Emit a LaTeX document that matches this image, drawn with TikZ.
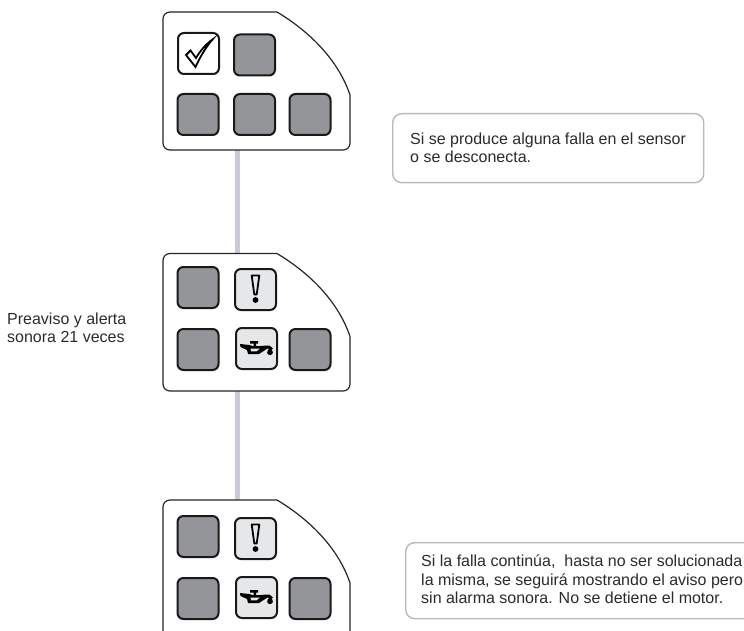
\documentclass[tikz,border=0pt]{standalone}
\usepackage{fontspec}
\setmainfont{Liberation Sans}
\definecolor{keygrey}{HTML}{939598}
\definecolor{litgrey}{HTML}{E6E7E8}
\definecolor{linkc}{HTML}{C9C9D8}
\definecolor{notec}{HTML}{B4BAC0}
\definecolor{txtc}{HTML}{2B2B2B}
\tikzset{
  x=1pt,y=-1pt,
  panel/.style={draw=black!85,line width=1.2pt,fill=white},
  key/.style={draw=black!90,line width=2pt,rounded corners=6pt,minimum width=41pt,minimum height=41pt,inner sep=0pt,anchor=north west},
  off/.style={key,fill=keygrey},
  lit/.style={key,fill=litgrey},
  blank/.style={key,fill=white},
  link/.style={draw=linkc,line width=4.5pt},
  note/.style={draw=notec,line width=1.4pt,rounded corners=9pt,fill=white,anchor=north west,inner sep=0pt},
  txt/.style={text=txtc,font=\fontsize{16}{18.2}\selectfont,align=left,anchor=north west,inner sep=0pt}
}
\newcommand{\panelshape}[2]{% top y, bottom y
  \path[panel] (163,#2-7) -- (163,#1+7)
    .. controls (163,#1+3) and (166,#1) .. (170,#1) -- (277,#1)
    .. controls (312,#1+21) and (339,#1+50) .. (350,#1+83)
    -- (350,#2-7) .. controls (350,#2-3) and (347,#2) .. (343,#2) -- (170,#2)
    .. controls (166,#2) and (163,#2-3) .. (163,#2-7) -- cycle;
}
\newcommand{\excl}[2]{%
  \fill[black] (#1,#2+32) circle[radius=2.9];
  \draw[black,line width=1.8pt,line join=round] (#1-3.8,#2+7.5) -- (#1+3.8,#2+7.5) -- (#1+1.2,#2+26.5) -- (#1-1.2,#2+26.5) -- cycle;
}
\newcommand{\oilcan}[2]{%
  \fill[black] (#1-15.5,#2-5) -- (#1-6,#2-4) -- (#1-3,#2-3) -- (#1-2,#2-3) -- (#1-2,#2-5.5) -- (#1-5.5,#2-5.5) -- (#1-5.5,#2-8) -- (#1+2.5,#2-8) -- (#1+2.5,#2-5.5) -- (#1+0.5,#2-5.5) -- (#1+0.5,#2-3) -- (#1+5,#2-3) -- (#1+11,#2-3.5) -- (#1+14,#2-3.5) -- (#1+17.5,#2-0.5) -- (#1+16,#2+0.8) -- (#1+12,#2-0.5) -- (#1+3.5,#2+5) -- (#1-7.5,#2+5) -- (#1-8.5,#2+1) -- (#1-15,#2-2) -- cycle;
  \fill[litgrey] (#1-5,#2-0.5) -- (#1+4.5,#2-0.5) -- (#1+1,#2+2.3) -- (#1-4.5,#2+2.3) -- cycle;
  \fill[black] (#1+14.5,#2-1) .. controls (#1+10.5,#2+2) and (#1+11,#2+6) .. (#1+14.5,#2+6) .. controls (#1+18,#2+6) and (#1+18.5,#2+2) .. (#1+14.5,#2-1) -- cycle;
}
\begin{document}
\begin{tikzpicture}
\useasboundingbox (0,0) rectangle (744,631);
\clip (0,0) rectangle (744,631);
% connectors
\coordinate (p1b) at (237.5,150);
\coordinate (p2t) at (237.5,254);
\coordinate (p2b) at (237.5,391);
\coordinate (p3t) at (237.5,500);
\draw[link] (p1b) -- (p2t);
\draw[link] (p2b) -- (p3t);
% panel 1
\panelshape{12}{150}
\node[blank] (a1) at (177,32) {};
\node[off] (a2) at (233,33.5) {};
\node[off] (a3) at (176.5,93) {};
\node[off] (a4) at (233,93) {};
\node[off] (a5) at (288.5,93) {};
\draw[black,fill=white,line width=1.8pt,line join=miter] (186,55) -- (190.5,50.5) -- (196,58)
  .. controls (200,51) and (206,44) .. (212.5,39.5)
  .. controls (206,47) and (200,57) .. (195.5,67) -- cycle;
% panel 2
\panelshape{253.5}{391}
\node[off] (b1) at (176.5,266) {};
\node[lit] (b2) at (234,268) {};
\node[off] (b3) at (176.5,328) {};
\node[lit] (b4) at (235,327) {};
\node[off] (b5) at (288.5,328) {};
\excl{255.5}{268}
\oilcan{255.5}{349}
% panel 3
\panelshape{500}{640}
\node[off] (c1) at (176.5,515) {};
\node[lit] (c2) at (234,517) {};
\node[off] (c3) at (176.5,577) {};
\node[lit] (c4) at (235,576) {};
\node[off] (c5) at (288.5,577) {};
\excl{255.5}{517}
\oilcan{255.5}{598}
% notes
\node[note,minimum width=311pt,minimum height=69pt] (n1) at (392,113) {};
\node[txt] (t1) at (410,133) {Si se produce alguna falla en el sensor\\o se desconecta.};
\node[note,minimum width=360pt,minimum height=76pt] (n2) at (405,542) {};
\node[txt] (t2) at (421,555) {Si la falla continúa,\ \ hasta no ser solucionada\\la misma, se seguirá mostrando el aviso pero\\sin alarma sonora. No se detiene el motor.};
\node[txt] (t3) at (7,313) {Preaviso y alerta\\sonora 21 veces};
\end{tikzpicture}
\end{document}
